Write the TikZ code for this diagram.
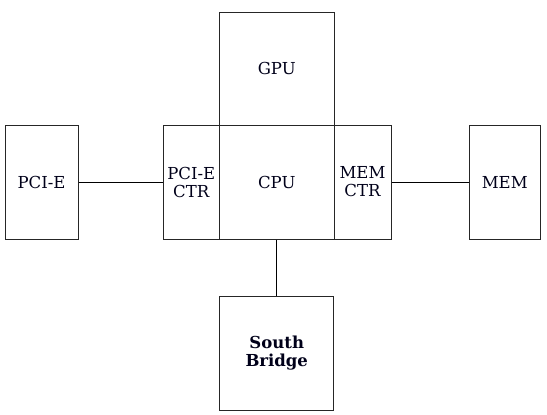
\documentclass[tikz,border=0pt]{standalone}
\usepackage{fontspec}
\setmainfont{DejaVu Serif}
\begin{document}
\begin{tikzpicture}[x=1pt,y=-1pt,
  box/.style={draw=black!85, line width=1pt, rectangle, inner sep=0pt, align=center,
    font=\fontsize{16.5}{18}\selectfont, text=black!90!blue},
  conn/.style={draw=black, line width=0.9pt}]
\useasboundingbox (0,0) rectangle (547,415);
\node[box, minimum width=73pt, minimum height=114pt] (pcie) at (41.5,182) {PCI-E};
\node[box, minimum width=56.5pt, minimum height=114pt] (pcictr) at (191.25,182) {PCI-E\\CTR};
\node[box, minimum width=114.5pt, minimum height=114pt] (cpu) at (276.75,182) {CPU};
\node[box, minimum width=114.5pt, minimum height=113pt] (gpu) at (276.75,68.5) {GPU};
\node[box, minimum width=57pt, minimum height=114pt] (memctr) at (362.5,182) {MEM\\CTR};
\node[box, minimum width=71.5pt, minimum height=114pt] (mem) at (504.75,182) {MEM};
\node[box, minimum width=114pt, minimum height=114pt, font=\fontsize{16.5}{18}\selectfont\bfseries] (sb) at (276.75,353) {South\\Bridge};
\draw[conn] (pcie.east) -- (pcictr.west);
\draw[conn] (memctr.east) -- (mem.west);
\draw[conn] (cpu.south) -- (sb.north);
\end{tikzpicture}
\end{document}
